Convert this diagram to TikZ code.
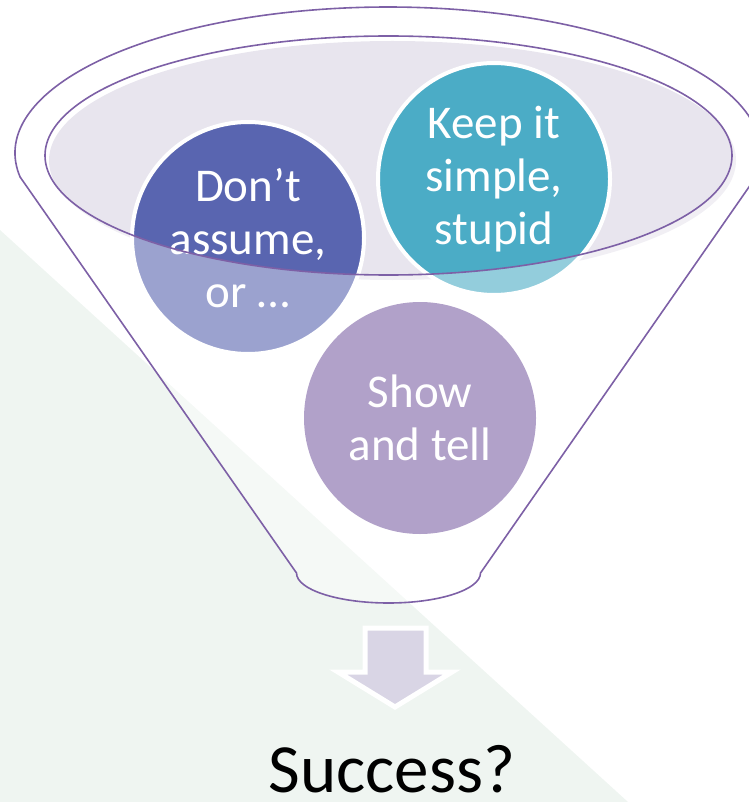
\documentclass[tikz,border=0pt]{standalone}
\usepackage{fontspec}
\setmainfont{Carlito}
\usepackage{tikz}
\usetikzlibrary{shapes,positioning}
\definecolor{bggreen}{RGB}{239,245,241}
\definecolor{rimline}{RGB}{125,96,166}
\definecolor{bowlfill}{RGB}{232,229,238}
\definecolor{dontblue}{RGB}{89,101,176}
\definecolor{keepteal}{RGB}{75,172,198}
\definecolor{showlilac}{RGB}{177,161,201}
\definecolor{arrowfill}{RGB}{217,213,229}
\tikzstyle{idea} = [circle, draw=white, line width=4pt, text=white, text centered, align=center, inner sep=0pt, minimum size=232pt, font=\fontsize{47}{53}\selectfont]
\tikzstyle{rim} = [draw=rimline, line width=1.6pt]
\tikzstyle{textonly} = [draw=none, fill=none, inner sep=0pt, text centered, font=\fontsize{69}{80}\selectfont]

\begin{document}
\begin{tikzpicture}[x=1pt, y=-1pt]
\useasboundingbox (0,0) rectangle (748,802);

% background =============================
\fill[bggreen] (0,230) -- (628,802) -- (0,802) -- cycle;

% bowl of the funnel
\fill[bowlfill] (392.5,160.5) ellipse [x radius=343.5, y radius=119.5];

% ideas in the bowl
\node[idea, fill=dontblue] (assume) at (248,238) {Don’t\\assume,\\or …};
\node[idea, fill=keepteal] (simple) at (494,179) {Keep it\\simple,\\stupid};

% funnel body
\fill[white, fill opacity=0.4, even odd rule]
  (20.1,177) arc[start angle=170.54, end angle=369.46, x radius=373, y radius=146]
  -- (480.5,573) arc[start angle=0, end angle=180, x radius=92, y radius=30] -- cycle
  (388.5,155.5) ellipse [x radius=343.5, y radius=119.5];
\draw[rim]
  (20.1,177) arc[start angle=170.54, end angle=369.46, x radius=373, y radius=146]
  -- (480.5,573) arc[start angle=0, end angle=180, x radius=92, y radius=30] -- cycle;
\draw[rim] (388.5,155.5) ellipse [x radius=343.5, y radius=119.5];

\node[idea, fill=showlilac, draw=none] (show) at (420,418) {Show\\and tell};

% outlet arrow and result
\draw[white, line width=5pt, fill=arrowfill, line join=miter]
  (365,628) -- (426,628) -- (426,672) -- (452,672) -- (395,707) -- (338,672) -- (365,672) -- cycle;
\node[textonly, anchor=base] (success) at (392,792) {Success?};

\end{tikzpicture}
\end{document}
